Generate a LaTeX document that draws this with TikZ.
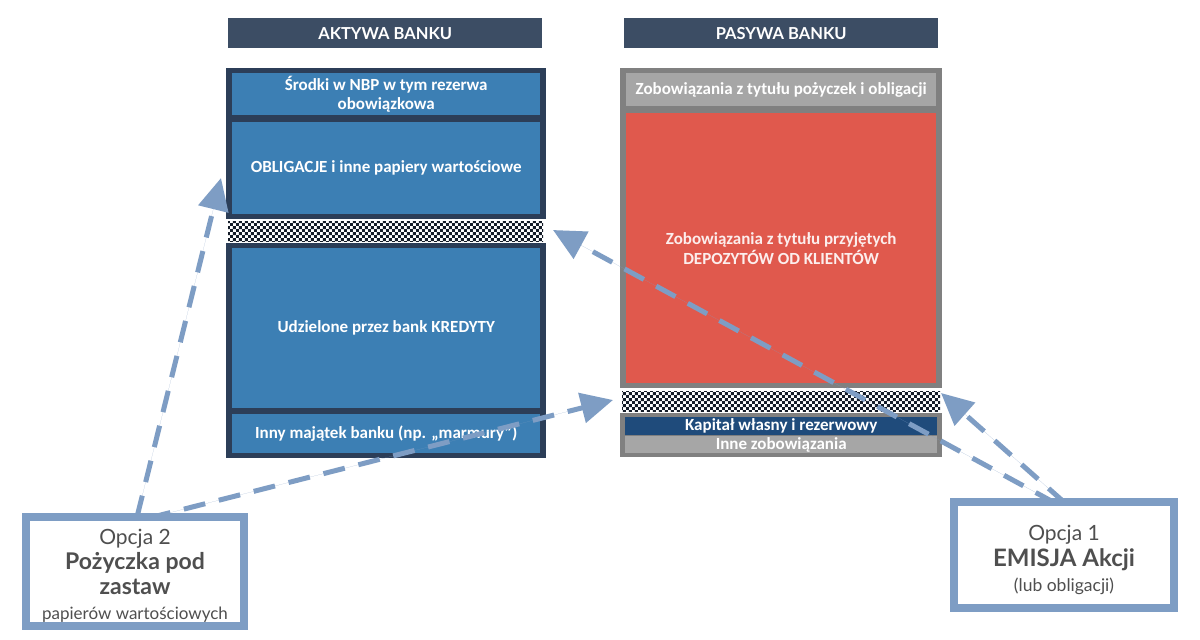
\documentclass[tikz,border=0pt]{standalone}
\usepackage{fontspec}
\setmainfont{Carlito}
\newfontfamily\lato{Lato}
\usetikzlibrary{arrows.meta,calc,patterns}
\definecolor{hdr}{HTML}{3C4D64}
\definecolor{navy}{HTML}{2C3E58}
\definecolor{bblue}{HTML}{3C7FB4}
\definecolor{gborder}{HTML}{808080}
\definecolor{gfill}{HTML}{A6A6A6}
\definecolor{rfill}{HTML}{E0594D}
\definecolor{kap}{HTML}{1F4B7B}
\definecolor{arrc}{HTML}{7E9DC4}
\definecolor{optxt}{HTML}{4F4F4F}
\definecolor{chk}{HTML}{141C28}
\pgfdeclarepatternformonly{mycheck}{\pgfpointorigin}{\pgfqpoint{6.4pt}{6.4pt}}{\pgfqpoint{6.4pt}{6.4pt}}{%
  \pgfpathrectangle{\pgfpointorigin}{\pgfqpoint{3.2pt}{3.2pt}}%
  \pgfpathrectangle{\pgfqpoint{3.2pt}{3.2pt}}{\pgfqpoint{3.2pt}{3.2pt}}%
  \pgfusepath{fill}}
\tikzset{
  blk/.style={inner sep=0pt, align=center, anchor=north west, text=white,
    font=\bfseries\fontsize{17}{19.5}\selectfont},
  hdrbox/.style={blk, fill=hdr, font=\lato\bfseries\fontsize{16.5}{18}\selectfont,
    minimum width=314pt, minimum height=30pt},
  frame/.style={blk},
  chkstrip/.style={blk, pattern=mycheck, pattern color=chk},
  opt/.style={draw=arrc, line width=8pt, fill=white, align=center, text=optxt,
    font=\lato\fontsize{21}{25}\selectfont, inner sep=0pt},
  optlbl/.style={align=center, text=optxt, inner sep=0pt},
  arr/.style={draw=arrc, line width=5pt, dash pattern=on 22pt off 14pt,
    -{Triangle[length=32pt,width=30pt]}, fill=arrc}
}
\begin{document}
\begin{tikzpicture}[x=1pt,y=-1pt]
\fill[white] (0,0) rectangle (1200,640);
\useasboundingbox (0,0) rectangle (1200,640);
% headers
\node[hdrbox] (hA) at (228,18) {AKTYWA BANKU};
\node[hdrbox] (hP) at (624,18) {PASYWA BANKU};
% left column
\node[frame, fill=navy, minimum width=320pt, minimum height=151pt] (ltop) at (226,68) {};
\node[blk, fill=bblue, minimum width=308pt, minimum height=42pt] (srodki) at (232,73)
  {Środki w NBP w tym rezerwa\\obowiązkowa};
\node[blk, fill=bblue, minimum width=308pt, minimum height=92pt] (oblig) at (232,122)
  {OBLIGACJE i inne papiery wartościowe};
\node[chkstrip, minimum width=315pt, minimum height=20pt] (chkL) at (228,221) {};
\node[frame, fill=navy, minimum width=320pt, minimum height=215pt] (lbot) at (226,243) {};
\node[blk, fill=bblue, minimum width=308pt, minimum height=160pt] (kred) at (232,248)
  {Udzielone przez bank KREDYTY};
\node[blk, fill=bblue, minimum width=308pt, minimum height=39pt] (inny) at (232,414)
  {Inny majątek banku (np. „marmury”)};
% right column
\node[frame, fill=gborder, minimum width=322pt, minimum height=320pt] (rtop) at (620,68) {};
\node[blk, fill=gfill, minimum width=310pt, minimum height=33pt] (pozycz) at (626,73)
  {Zobowiązania z tytułu pożyczek i obligacji};
\node[blk, fill=rfill, minimum width=310pt, minimum height=270pt, text=white!90!rfill,
  font=\bfseries\fontsize{17}{20}\selectfont] (depo) at (626,113)
  {Zobowiązania z tytułu przyjętych\\DEPOZYTÓW OD KLIENTÓW};
\node[chkstrip, minimum width=318pt, minimum height=20pt] (chkR) at (622,391) {};
\node[frame, fill=gborder, minimum width=322pt, minimum height=44pt] (rbot) at (620,413) {};
\node[blk, fill=kap, minimum width=312pt, minimum height=18pt] (kapital) at (625,417)
  {Kapitał własny i rezerwowy};
\node[blk, fill=gfill, minimum width=312pt, minimum height=17pt] (inne) at (625,436)
  {Inne zobowiązania};
% option boxes
\node[opt, minimum width=218pt, minimum height=109pt] (op2) at (135,571.5) {};
\node[optlbl, font=\lato\fontsize{21}{25}\selectfont] (op2t)
  at ([yshift=-4pt]op2.center)
  {Opcja 2\\{\bfseries\fontsize{23}{25}\selectfont Pożyczka pod}\\{\bfseries\fontsize{23}{25}\selectfont zastaw}\\{\fontsize{17}{22}\selectfont papierów wartościowych}};
\node[opt, minimum width=220pt, minimum height=106pt] (op1) at (1064,555) {};
\node[optlbl, font=\lato\fontsize{21}{25.5}\selectfont] (op1t)
  at ([yshift=-5pt]op1.center)
  {Opcja 1\\{\bfseries\fontsize{24}{25.5}\selectfont EMISJA Akcji}\\{\fontsize{17.5}{24}\selectfont (lub obligacji)}};
% arrow targets
\coordinate (t1) at (221,178);
\coordinate (t2) at (613,400);
\coordinate (t3) at (553,230);
\coordinate (t4) at (941,393);
% arrows
\draw[arr] ([xshift=2pt,yshift=-4pt]op2.north) -- (t1);
\draw[arr] ([xshift=14pt,yshift=-5pt]op2.north) -- (t2);
\draw[arr] ([xshift=-9pt,yshift=-5pt]op1.north) -- (t3);
\draw[arr] ([xshift=1pt,yshift=-5pt]op1.north) -- (t4);
\end{tikzpicture}
\end{document}
